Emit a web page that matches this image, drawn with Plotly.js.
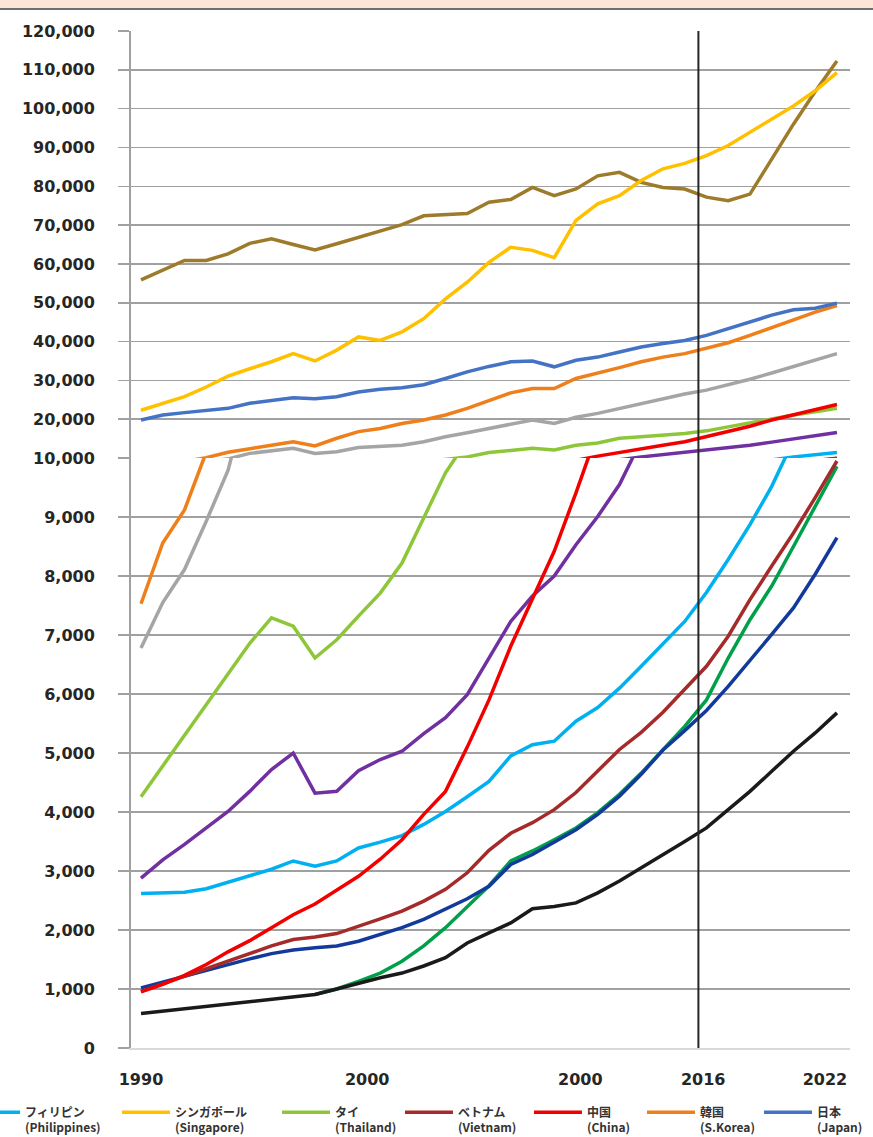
<!DOCTYPE html>
<html><head><meta charset="utf-8">
<script src="https://cdn.plot.ly/plotly-3.0.1.min.js"></script>
<style>
html,body{margin:0;padding:0;background:#fff;}
#band{position:absolute;left:0;top:0;width:873px;height:8px;background:#fce4d6;border-bottom:2px solid #6e6e6e;z-index:2;}
#chart{width:873px;height:1137px;}
</style></head><body>
<div id="band"></div>
<div id="chart"></div>
<script>
const years = [1990,1991,1992,1993,1994,1995,1996,1997,1998,1999,2000,2001,2002,2003,2004,2005,2006,2007,2008,2009,2010,2011,2012,2013,2014,2015,2016,2017,2018,2019,2020,2021,2022];

// x tick labels as printed in the source (label positions follow the source layout)
const xTickPos = [1990,2000.4,2010.2,2015.85,2021.45];
const xTickText = ['1990','2000','2000','2016','2022'];
const yLowTicks = [0,1000,2000,3000,4000,5000,6000,7000,8000,9000,10000];
const yHighTicks = [20000,30000,40000,50000,60000,70000,80000,90000,100000,110000,120000];

const philippines = [2620,2630,2640,2700,2810,2920,3030,3170,3080,3170,3390,3490,3600,3790,4010,4260,4520,4950,5140,5200,5540,5770,6100,6470,6840,7230,7720,8280,8870,9520,10300,10900,11400];
const singapore = [22300,24000,25800,28300,31100,33000,34800,36900,35000,37800,41200,40300,42500,45900,51000,55300,60400,64300,63500,61600,71200,75500,77600,81500,84500,85900,87900,90500,93900,97300,100700,104600,109300];
const thailand = [4260,4780,5300,5820,6340,6860,7290,7150,6610,6920,7320,7710,8220,9000,9750,10300,11400,12000,12500,12100,13300,13900,15100,15500,15900,16300,17000,18000,19100,20200,21100,21900,22800];
const vietnam = [960,1090,1210,1340,1470,1600,1730,1840,1880,1940,2060,2190,2320,2490,2690,2970,3350,3640,3820,4040,4330,4700,5060,5350,5690,6080,6470,6980,7600,8170,8730,9330,9950];
const china = [950,1080,1230,1415,1630,1820,2040,2260,2440,2670,2910,3200,3530,3960,4350,5100,5900,6810,7600,8420,9410,10500,11500,12500,13300,14200,15500,16800,18200,19800,21100,22300,23800];
const korea = [7530,8560,9120,10100,11500,12500,13300,14200,13100,15100,16800,17600,18900,19800,21100,22800,24900,26800,27900,27900,30500,31800,33300,34800,36000,36900,38200,39700,41600,43600,45700,47600,49300];
const japan = [19800,21100,21700,22200,22800,24100,24900,25500,25300,25800,27000,27700,28100,28900,30500,32200,33600,34800,35000,33500,35200,36000,37300,38600,39500,40300,41600,43300,45000,46800,48200,48600,49900];
const seriesBrown = [55900,58300,60900,60900,62600,65300,66500,65000,63600,65200,66900,68600,70100,72400,72700,73000,75900,76600,79700,77600,79300,82700,83600,81000,79700,79300,77200,76300,78000,87000,96000,104400,112300];
const seriesGray = [6780,7550,8110,8930,9790,11200,11900,12500,11200,11600,12700,12900,13300,14200,15500,16500,17600,18700,19800,18900,20500,21500,22800,23900,25300,26500,27500,28800,30300,31900,33500,35200,36900];
const seriesPurple = [2880,3190,3450,3730,4010,4350,4720,5000,4320,4350,4700,4890,5030,5330,5600,5990,6600,7230,7660,8000,8530,9010,9550,10300,10900,11400,11900,12500,13300,14100,15000,15800,16600];
const seriesDarkGreen = [null,null,null,null,null,null,null,null,907,1000,1130,1270,1470,1730,2040,2400,2750,3170,3340,3530,3730,3990,4300,4660,5050,5450,5900,6610,7260,7830,8500,9180,9860];
const seriesNavy = [1020,1120,1220,1310,1420,1510,1600,1660,1700,1730,1810,1920,2040,2180,2350,2530,2740,3110,3280,3490,3700,3960,4270,4640,5050,5380,5720,6130,6560,7010,7460,8030,8650];
const seriesBlack = [585,624,664,698,749,783,822,856,907,1000,1100,1190,1270,1390,1530,1780,1950,2120,2360,2400,2460,2630,2830,3050,3280,3500,3730,4040,4350,4690,5030,5340,5680];

const legendSeries = [
  {name:'フィリピン<br>(Philippines)', data:philippines, color:'#00b0f0'},
  {name:'シンガポール<br>(Singapore)', data:singapore, color:'#ffc000'},
  {name:'タイ<br>(Thailand)', data:thailand, color:'#8ec63a'},
  {name:'ベトナム<br>(Vietnam)', data:vietnam, color:'#a52a2a'},
  {name:'中国<br>(China)', data:china, color:'#f20000'},
  {name:'韓国<br>(S.Korea)', data:korea, color:'#ee7f1a'},
  {name:'日本<br>(Japan)', data:japan, color:'#4472c4'}
];
const otherSeries = [
  {name:'系列（茶）', data:seriesBrown, color:'#9e7b2a'},
  {name:'系列（灰）', data:seriesGray, color:'#a5a5a5'},
  {name:'系列（紫）', data:seriesPurple, color:'#7030a0'},
  {name:'系列（緑）', data:seriesDarkGreen, color:'#00a04a'},
  {name:'系列（紺）', data:seriesNavy, color:'#12399c'},
  {name:'系列（黒）', data:seriesBlack, color:'#1a1a1a'}
];

// one legend box per legend entry, spaced like the source legend
const legendX = [-0.228, -0.0195, 0.2031, 0.3741, 0.5535, 0.7107, 0.8734];
const legendIds = ['legend','legend2','legend3','legend4','legend5','legend6','legend7'];

const traces = [];
function addSeries(s, legendId){
  const base = {x:years, y:s.data, type:'scatter', mode:'lines', name:s.name, legendgroup:s.name,
    line:{color:s.color, width:3.5}, connectgaps:false, xaxis:'x'};
  const low = Object.assign({}, base, {yaxis:'y', showlegend:!!legendId});
  if (legendId) low.legend = legendId;
  traces.push(low);
  traces.push(Object.assign({}, base, {yaxis:'y2', showlegend:false}));
}
otherSeries.forEach(s => addSeries(s, null));
legendSeries.forEach((s, i) => addSeries(s, legendIds[i]));

const gridC = '#a0a0a0';
const tickFont = {family:'DejaVu Sans', size:16, weight:'bold', color:'#262626'};
const yCommon = {
  tickformat:',', showgrid:true, gridcolor:gridC, gridwidth:1.5, zeroline:false,
  showline:true, linecolor:gridC, linewidth:2, ticks:'outside', ticklen:11, tickcolor:gridC, tickwidth:1.5,
  tickfont:tickFont, ticklabelstandoff:20, tickmode:'array', fixedrange:true, automargin:false
};

const layout = {
  width:873, height:1137,
  margin:{l:131, r:23, t:31, b:89, autoexpand:false},
  paper_bgcolor:'rgba(0,0,0,0)', plot_bgcolor:'#ffffff',
  font:{family:'DejaVu Sans', color:'#262626'},
  showlegend:true,
  xaxis:{range:[1989.54,2022.6], tickmode:'array', tickvals:xTickPos, ticktext:xTickText,
    showgrid:false, zeroline:false, showline:true, linecolor:'#d9d9d9', linewidth:1.5, ticks:'',
    tickfont:tickFont, ticklabelstandoff:16, anchor:'y', fixedrange:true, automargin:false},
  yaxis:Object.assign({}, yCommon, {domain:[0,0.5801], range:[0,10000], tickvals:yLowTicks, anchor:'x'}),
  yaxis2:Object.assign({}, yCommon, {domain:[0.5801,1], range:[10000,120000], tickvals:yHighTicks, anchor:'x'}),
  shapes:[{type:'line', xref:'x', yref:'paper', x0:2015.63, x1:2015.63, y0:0, y1:1, line:{color:'#262626', width:2}}]
};
legendIds.forEach((id, i) => {
  layout[id] = {orientation:'h', x:legendX[i], xanchor:'left', y:-0.049, yanchor:'top',
    font:{family:'Noto Sans CJK JP', size:12, color:'#333333', weight:'bold'},
    itemwidth:48, bgcolor:'rgba(0,0,0,0)', valign:'top'};
});

Plotly.newPlot('chart', traces, layout, {staticPlot:true, displayModeBar:false});
</script>
</body></html>
